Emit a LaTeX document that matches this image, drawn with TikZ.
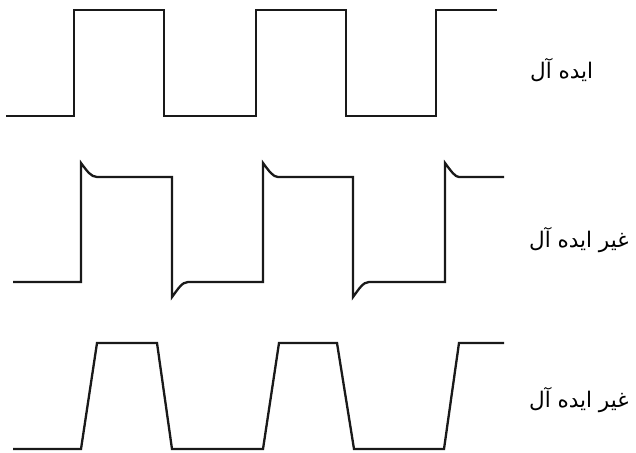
\documentclass[tikz,border=0pt]{standalone}
\usepackage{fontspec}
\newfontfamily\arabicfont[Script=Arabic]{DejaVu Sans}
\TeXXeTstate=1
\tikzset{
  wave/.style={line width=2.3pt, line join=miter, black!90},
  lbl/.style={anchor=west, inner sep=0pt, font=\arabicfont\fontsize{21.5}{24}\selectfont}
}
\begin{document}
\begin{tikzpicture}[x=1pt,y=-1pt]
\useasboundingbox (0,0) rectangle (636,452);
% ideal
\draw[wave] (6,116) -- (74,116) -- (74,10) -- (164,10) -- (164,116) -- (256,116) -- (256,10)
  -- (346,10) -- (346,116) -- (436,116) -- (436,10) -- (497,10);
% non-ideal (overshoot)
\draw[wave] (13,282) -- (81,282) -- (81,163) .. controls (87,171) and (91,177) .. (97,177)
  -- (172,177) -- (172,297) .. controls (178,289) and (182,282) .. (188,282)
  -- (263,282) -- (263,163) .. controls (269,171) and (273,177) .. (278,177)
  -- (353,177) -- (353,297) .. controls (359,289) and (363,282) .. (369,282)
  -- (445,282) -- (445,163) .. controls (451,171) and (455,177) .. (459,177) -- (504,177);
% non-ideal (slow edges)
\draw[wave] (13,449) -- (81,449) -- (97,343) -- (157,343) -- (172,449) -- (263,449) -- (279,343)
  -- (337,343) -- (354,449) -- (444,449) -- (459,343) -- (504,343);
\node[lbl] (l1) at (530,70) {\beginR ایده آل\endR};
\node[lbl] (l2) at (529,240) {\beginR غیر ایده آل\endR};
\node[lbl] (l3) at (529,400) {\beginR غیر ایده آل\endR};
\end{tikzpicture}
\end{document}
